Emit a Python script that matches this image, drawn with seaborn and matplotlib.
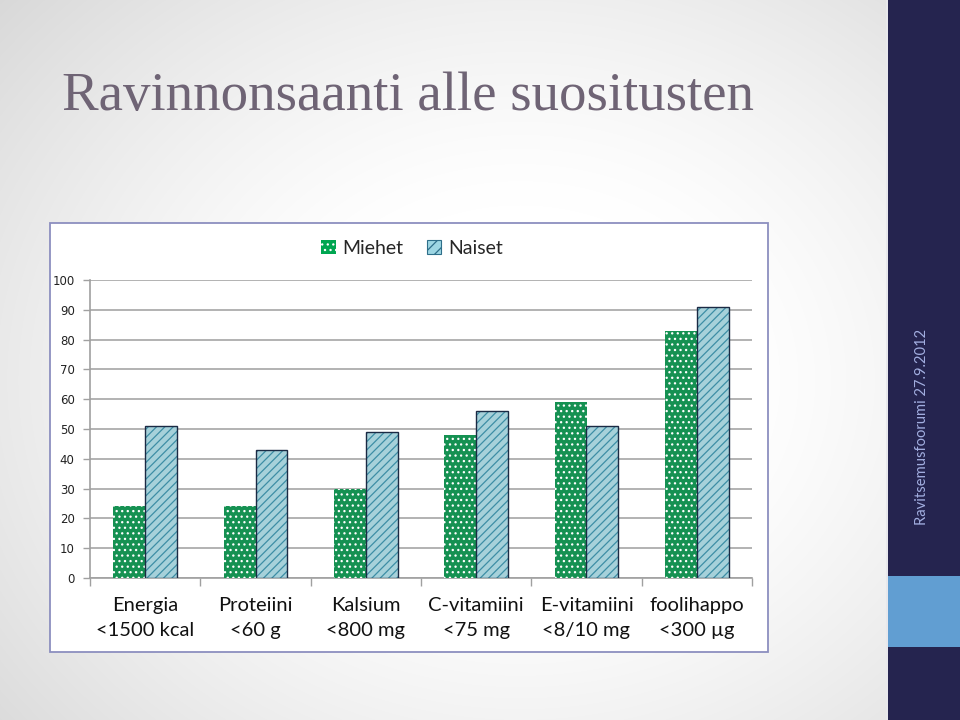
import numpy as np
import pandas as pd
import matplotlib
matplotlib.use("Agg")
import matplotlib.pyplot as plt
import seaborn as sns
from matplotlib.patches import Patch, Rectangle
from matplotlib.colors import to_rgba

# ---- data ----
categories = ["Energia\n<1500 kcal", "Proteiini\n<60 g", "Kalsium\n<800 mg",
              "C-vitamiini\n<75 mg", "E-vitamiini\n<8/10 mg", "foolihappo\n<300 µg"]
miehet = [24, 24, 30, 48, 59, 83]
naiset = [51, 43, 49, 56, 51, 91]
series_labels = ["Miehet", "Naiset"]
yticks = [0, 10, 20, 30, 40, 50, 60, 70, 80, 90, 100]
title = "Ravinnonsaanti alle suositusten"
side_text = "Ravitsemusfoorumi 27.9.2012"

df = pd.DataFrame({
    "cat": categories * 2,
    "val": miehet + naiset,
    "sarja": [series_labels[0]] * len(categories) + [series_labels[1]] * len(categories),
})

sns.set_theme(style="white")
plt.rcParams["font.family"] = ["Lato", "DejaVu Sans"]
plt.rcParams["hatch.linewidth"] = 0.9

W, H = 960, 720
fig = plt.figure(figsize=(9.6, 7.2), dpi=100)

# ---- background gradient ----
bg = fig.add_axes([0, 0, 1, 1], zorder=-10)
yy, xx = np.mgrid[0:H, 0:W]
d = np.sqrt(((xx - 520) / 600.0) ** 2 + ((yy - 380) / 500.0) ** 2)
shade = 1.0 - 0.2 * np.clip(d - 0.35, 0, 1) ** 1.3
img = np.dstack([shade, shade, shade])
bg.imshow(img, extent=[0, W, H, 0], aspect="auto")
bg.set_xlim(0, W)
bg.set_ylim(H, 0)
bg.axis("off")
# right dark strip and blue block
bg.add_patch(Rectangle((886, 0), 3, H, color="#e8e8ec", lw=0))
bg.add_patch(Rectangle((888, 0), 72, H, color="#25244f", lw=0))
bg.add_patch(Rectangle((888, 576), 72, 71, color="#619ed2", lw=0))
bg.text(922, 427, side_text, rotation=90, ha="center", va="center",
        color="#a2aee0", fontsize=10.6, family=["Lato", "DejaVu Sans"])
# title
bg.text(62, 110, title, ha="left", va="baseline", color="#6f6475",
        fontsize=39.5, family=["Liberation Serif", "DejaVu Serif"])
# chart frame
bg.add_patch(Rectangle((50, 223), 718, 429, facecolor="white",
                       edgecolor="#8c8fbf", lw=1.3))

# ---- chart ----
ax = fig.add_axes([90 / W, 1 - 578 / H, (752 - 90) / W, (578 - 280) / H])
ax.set_facecolor("none")
sns.barplot(data=df, x="cat", y="val", hue="sarja", order=categories,
            hue_order=series_labels, palette=["#00a651", "#9dd6e3"],
            width=0.58, gap=0, ax=ax, legend=False, zorder=3)

green_hatch = "..."
blue_hatch = "////"
for bar in ax.containers[0]:
    bar.set_hatch(green_hatch)
    bar.set_edgecolor("white")
    bar.set_linewidth(0)
for bar in ax.containers[1]:
    bar.set_hatch(blue_hatch)
    bar.set_edgecolor("#1b2a44")
    bar.set_linewidth(1.0)
    bar._hatch_color = to_rgba("#3d8ea5")

ax.set_ylim(0, 100)
ax.set_xlim(-0.5, len(categories) - 0.5)
ax.set_yticks(yticks)
ax.set_yticklabels([str(v) for v in yticks], fontsize=8.5,
                   family=["DejaVu Sans"], color="#222222")
ax.yaxis.grid(True, color="#a6a6a6", lw=1.2, zorder=0)
ax.set_axisbelow(True)
ax.tick_params(axis="y", left=True, length=5, width=1, color="#a0a0a0", pad=6)
ax.set_xticks(range(len(categories)))
ax.set_xticklabels(categories, fontsize=14.5, linespacing=1.55)
ax.tick_params(axis="x", bottom=False, pad=8, labelcolor="#111111")
ax.set_xticks(np.arange(-0.5, len(categories)), minor=True)
ax.tick_params(axis="x", which="minor", bottom=True, length=6, width=1, color="#a0a0a0")
ax.set_xlabel("")
ax.set_ylabel("")
for s in ["top", "right"]:
    ax.spines[s].set_visible(False)
for s in ["left", "bottom"]:
    ax.spines[s].set_color("#a0a0a0")
    ax.spines[s].set_linewidth(1.2)

# legend
h1 = Patch(facecolor="#00a651", edgecolor="white", hatch=green_hatch, lw=0)
h2 = Patch(facecolor="#9dd6e3", edgecolor="#2f6f8a", hatch="///", lw=0.8)
fig.legend([h1, h2], series_labels, loc="center", bbox_to_anchor=(412 / W, 1 - 248 / H),
           ncol=2, frameon=False, fontsize=14, handlelength=0.75, handleheight=0.75,
           handletextpad=0.35, columnspacing=1.2)

fig.savefig("out.png", dpi=100)
